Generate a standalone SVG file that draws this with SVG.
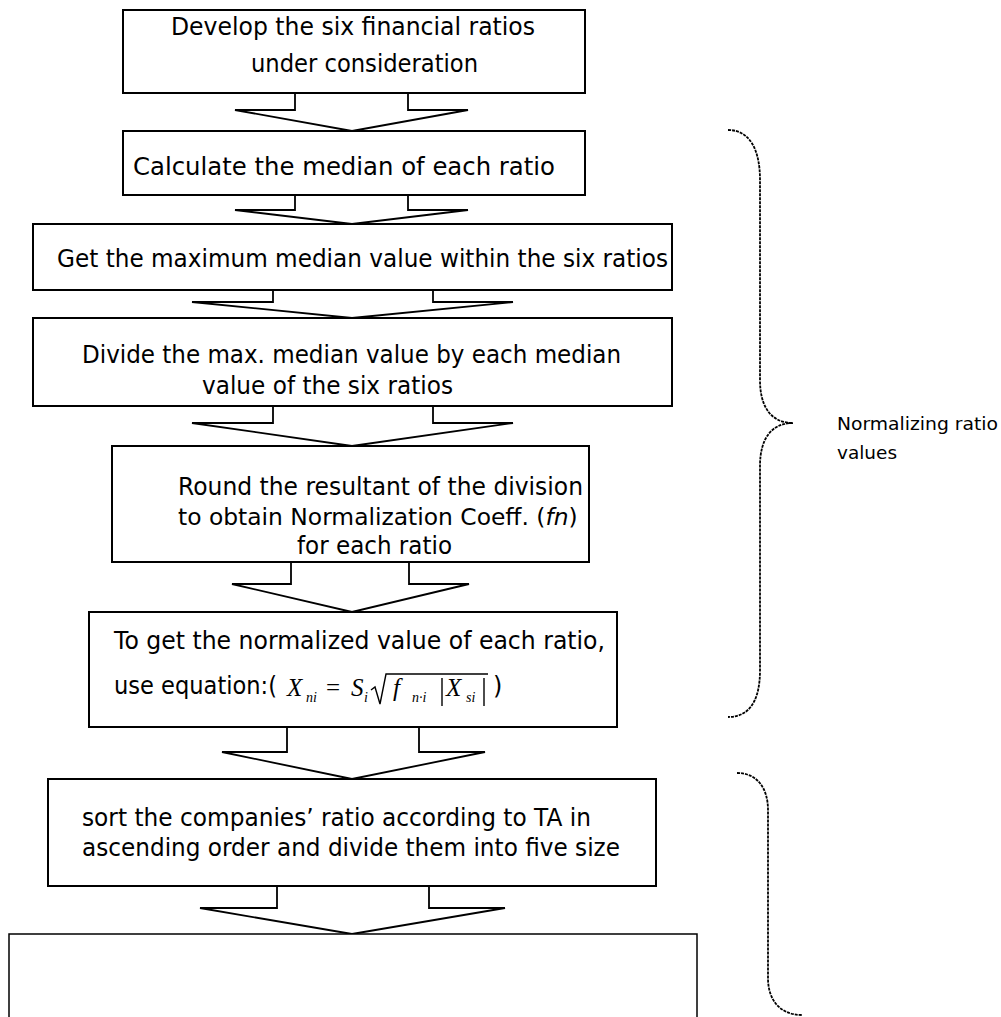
<svg xmlns="http://www.w3.org/2000/svg" width="1001" height="1017" viewBox="0 0 1001 1017">
<style>
.box{fill:#fff;stroke:#000;stroke-width:2}
.arr{fill:none;stroke:#000;stroke-width:1.8;stroke-linejoin:miter}
.t{font-family:'DejaVu Sans','Liberation Sans',sans-serif;font-size:24px;fill:#000}
.m{font-family:'Liberation Serif','Times New Roman',serif;font-style:italic;font-size:25px;fill:#000}
.mr{font-family:'Liberation Serif','Times New Roman',serif;font-size:25px;fill:#000}
.sub{font-family:'Liberation Serif','Times New Roman',serif;font-style:italic;font-size:14px;fill:#000}
.brace{fill:none;stroke:#000;stroke-width:1.8;stroke-dasharray:3 1}
.lbl{font-family:'DejaVu Sans','Liberation Sans',sans-serif;font-size:18.5px;fill:#000}
.ln{stroke:#000;stroke-width:1.4;fill:none}
</style>
<rect width="1001" height="1017" fill="#fff"/>
<g id="connectors">
<polyline class="arr" points="295,93 295,110 235,110 352,131 468,110 408,110 408,93"/>
<polyline class="arr" points="295,195 295,210 235,210 352,224 468,210 408,210 408,195"/>
<polyline class="arr" points="273,290 273,302 192,302 352,318 513,302 433,302 433,290"/>
<polyline class="arr" points="273,406 273,423 192,423 352,446 513,423 433,423 433,406"/>
<polyline class="arr" points="291,562 291,584 232,584 352,612 469,584 409,584 409,562"/>
<polyline class="arr" points="287,727 287,752 222,752 352,779 485,752 419,752 419,727"/>
<polyline class="arr" points="277,886 277,908 200,908 352,934 505,908 429,908 429,886"/>
</g>
<g id="node1">
<rect class="box" x="123" y="10" width="462" height="83"/>
<text class="t" x="171" y="35" textLength="364" lengthAdjust="spacingAndGlyphs">Develop the six financial ratios</text>
<text class="t" x="251" y="72" textLength="227" lengthAdjust="spacingAndGlyphs">under consideration</text>
</g>
<g id="node2">
<rect class="box" x="123" y="131" width="462" height="64"/>
<text class="t" x="133" y="175" textLength="422" lengthAdjust="spacingAndGlyphs">Calculate the median of each ratio</text>
</g>
<g id="node3">
<rect class="box" x="33" y="224" width="639" height="66"/>
<text class="t" x="57" y="267" textLength="611" lengthAdjust="spacingAndGlyphs">Get the maximum median value within the six ratios</text>
</g>
<g id="node4">
<rect class="box" x="33" y="318" width="639" height="88"/>
<text class="t" x="82" y="363" textLength="539" lengthAdjust="spacingAndGlyphs">Divide the max. median value by each median</text>
<text class="t" x="202" y="394" textLength="251" lengthAdjust="spacingAndGlyphs">value of the six ratios</text>
</g>
<g id="node5">
<rect class="box" x="112" y="446" width="477" height="116"/>
<text class="t" x="178" y="495" textLength="405" lengthAdjust="spacingAndGlyphs">Round the resultant of the division</text>
<text class="t" x="178" y="525" style="font-size:23.4px">to obtain Normalization Coeff. (<tspan font-style="italic">fn</tspan>)</text>
<text class="t" x="297" y="554" textLength="155" lengthAdjust="spacingAndGlyphs">for each ratio</text>
</g>
<g id="node6">
<rect class="box" x="89" y="612" width="528" height="115"/>
<text class="t" x="114" y="649" textLength="491" lengthAdjust="spacingAndGlyphs">To get the normalized value of each ratio,</text>
<text class="t" x="114" y="694" textLength="163" lengthAdjust="spacingAndGlyphs">use equation:(</text>
<text class="m" x="287" y="696">X</text>
<text class="sub" x="306" y="702">ni</text>
<text class="mr" x="326" y="696">=</text>
<text class="m" x="351" y="696">S</text>
<text class="sub" x="364" y="702">i</text>
<path class="ln" d="M371,690 L375,687 L380,704 L386,674 L488,674"/>
<text class="m" x="393" y="696">f</text>
<text class="sub" x="412" y="702">n·i</text>
<line class="ln" x1="442" y1="678" x2="442" y2="706"/>
<text class="m" x="446" y="696">X</text>
<text class="sub" x="466" y="702">si</text>
<line class="ln" x1="484" y1="678" x2="484" y2="706"/>
<text class="t" x="493" y="694">)</text>
</g>
<g id="node7">
<rect class="box" x="48" y="779" width="608" height="107"/>
<text class="t" x="82" y="826" textLength="509" lengthAdjust="spacingAndGlyphs">sort the companies’ ratio according to TA in</text>
<text class="t" x="82" y="856" textLength="538" lengthAdjust="spacingAndGlyphs">ascending order and divide them into five size</text>
</g>
<g id="node8">
<rect class="box" style="stroke-width:1.5" x="9" y="934" width="688" height="100"/>
</g>
<g id="brace1">
<path class="brace" d="M728,130 C750,130 760,150 760,180 L760,380 C760,408 772,423 793,423 C772,423 760,438 760,466 L760,670 C760,700 750,717 728,717"/>
<text class="lbl" x="837" y="430" textLength="161" lengthAdjust="spacingAndGlyphs">Normalizing ratio</text>
<text class="lbl" x="837" y="459" textLength="60" lengthAdjust="spacingAndGlyphs">values</text>
</g>
<g id="brace2">
<path class="brace" d="M737,773 C757,773 768,788 768,810 L768,978 C768,1000 780,1015 802,1015"/>
</g>
</svg>
